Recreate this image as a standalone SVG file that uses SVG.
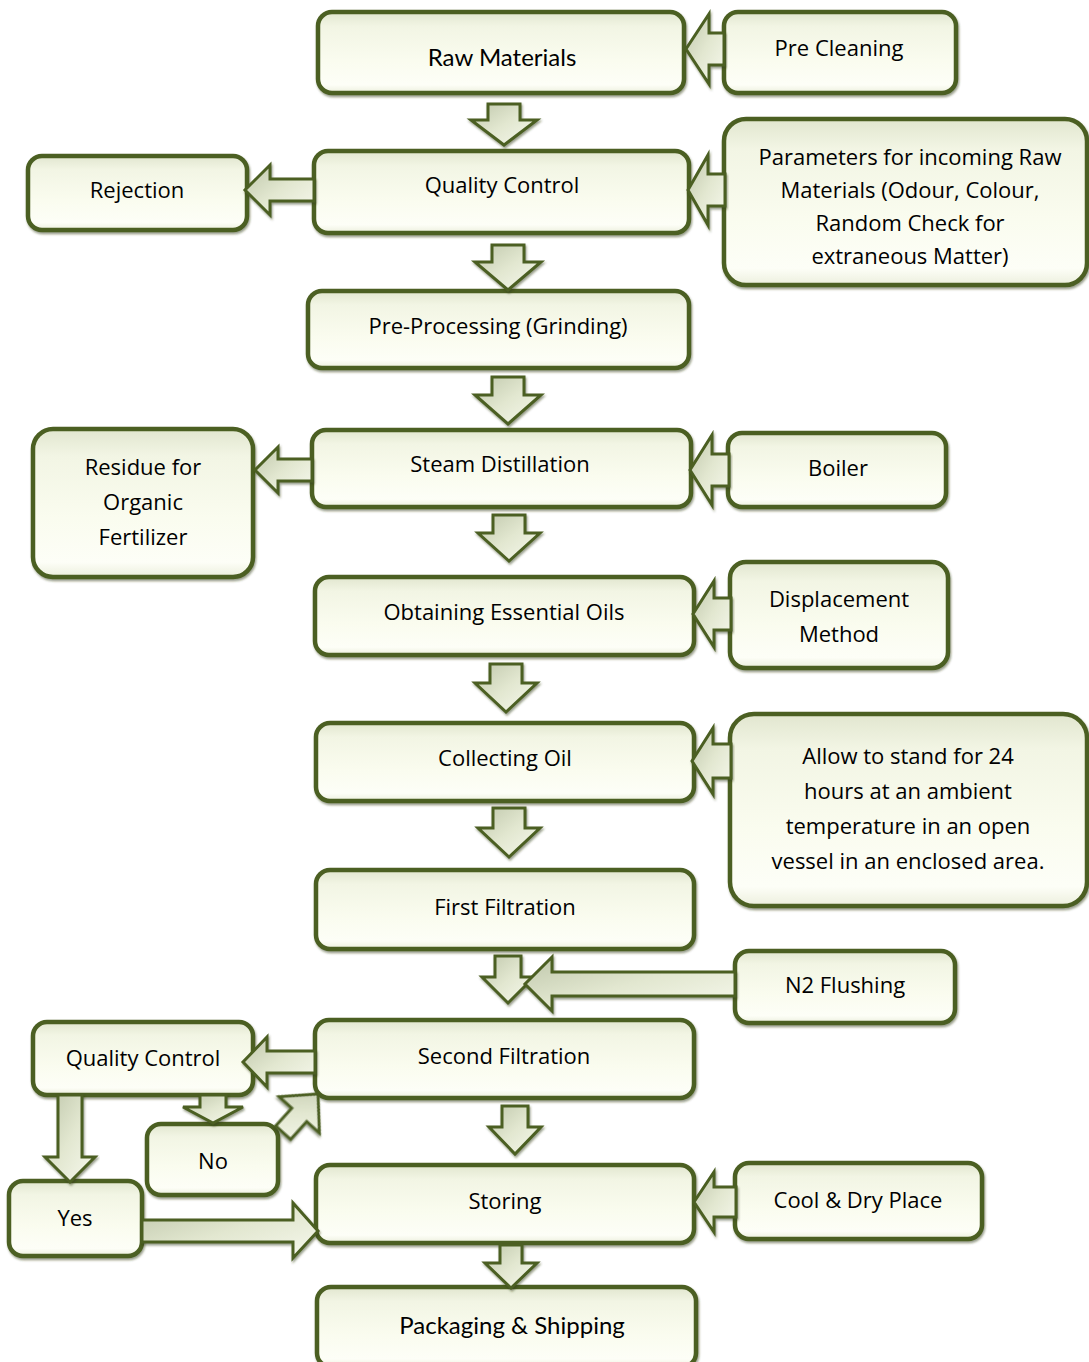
<svg xmlns="http://www.w3.org/2000/svg" width="1089" height="1362" viewBox="0 0 1089 1362">
<defs>
<linearGradient id="boxg" x1="0" y1="0" x2="0" y2="1">
<stop offset="0" stop-color="#e1e6cf"/>
<stop offset="0.18" stop-color="#f2f5e4"/>
<stop offset="0.6" stop-color="#fafcef"/>
<stop offset="0.9" stop-color="#fdfef7"/>
<stop offset="1" stop-color="#eceFdd"/>
</linearGradient>
<linearGradient id="arrg" x1="0" y1="0" x2="1" y2="1">
<stop offset="0" stop-color="#bfc7ab"/>
<stop offset="0.5" stop-color="#e2e7d0"/>
<stop offset="1" stop-color="#f7f9ee"/>
</linearGradient>
<filter id="sh" x="-10%" y="-10%" width="120%" height="130%">
<feDropShadow dx="1" dy="2" stdDeviation="1.2" flood-color="#2f3a18" flood-opacity="0.5"/>
</filter>
</defs>
<style>
.box{fill:url(#boxg);stroke:#4b5f22;stroke-width:4.5;filter:url(#sh)}
.arr{fill:url(#arrg);stroke:#4b5f22;stroke-width:3;stroke-linejoin:miter;filter:url(#sh)}
text{font-family:"Open Sans","Liberation Sans",sans-serif;font-size:22px;fill:#000;text-anchor:middle}
.gill{font-family:"Lato","Liberation Sans",sans-serif;font-size:24px}
</style>
<rect width="1089" height="1362" fill="#ffffff"/>
<g id="nodes">
<g id="raw-materials"><rect class="box" x="318" y="12" width="366" height="81" rx="14"/><text class="gill" x="502" y="66">Raw Materials</text></g>
<g id="pre-cleaning"><rect class="box" x="724" y="12" width="232" height="81" rx="14"/><text x="839" y="56">Pre Cleaning</text></g>
<g id="quality-control"><rect class="box" x="314" y="151" width="375" height="82" rx="14"/><text x="502" y="193">Quality Control</text></g>
<g id="rejection"><rect class="box" x="28" y="156" width="219" height="74" rx="14"/><text x="137" y="198">Rejection</text></g>
<g id="parameters"><rect class="box" x="724" y="119" width="363" height="166" rx="22"/><text x="910" y="165">Parameters for incoming Raw</text><text x="910" y="198">Materials (Odour, Colour,</text><text x="910" y="231">Random Check for</text><text x="910" y="264">extraneous Matter)</text></g>
<g id="pre-processing"><rect class="box" x="308" y="291" width="381" height="77" rx="14"/><text x="498" y="334">Pre-Processing (Grinding)</text></g>
<g id="steam-distillation"><rect class="box" x="312" y="430" width="379" height="77" rx="14"/><text x="500" y="472">Steam Distillation</text></g>
<g id="residue"><rect class="box" x="33" y="429" width="220" height="148" rx="20"/><text x="143" y="475">Residue for</text><text x="143" y="510">Organic</text><text x="143" y="545">Fertilizer</text></g>
<g id="boiler"><rect class="box" x="728" y="433" width="218" height="74" rx="14"/><text x="838" y="476">Boiler</text></g>
<g id="obtaining-oils"><rect class="box" x="315" y="577" width="379" height="78" rx="14"/><text x="504" y="620">Obtaining Essential Oils</text></g>
<g id="displacement"><rect class="box" x="730" y="562" width="218" height="106" rx="16"/><text x="839" y="607">Displacement</text><text x="839" y="642">Method</text></g>
<g id="collecting-oil"><rect class="box" x="316" y="723" width="378" height="78" rx="14"/><text x="505" y="766">Collecting Oil</text></g>
<g id="allow-stand"><rect class="box" x="730" y="714" width="357" height="192" rx="24"/><text x="908" y="764">Allow to stand for 24</text><text x="908" y="799">hours at an ambient</text><text x="908" y="834">temperature in an open</text><text x="908" y="869">vessel in an enclosed area.</text></g>
<g id="first-filtration"><rect class="box" x="316" y="870" width="378" height="79" rx="14"/><text x="505" y="915">First Filtration</text></g>
<g id="n2-flushing"><rect class="box" x="735" y="951" width="220" height="72" rx="14"/><text x="845" y="993">N2 Flushing</text></g>
<g id="second-filtration"><rect class="box" x="315" y="1020" width="379" height="78" rx="14"/><text x="504" y="1064">Second Filtration</text></g>
<g id="quality-control-2"><rect class="box" x="33" y="1022" width="220" height="73" rx="14"/><text x="143" y="1066">Quality Control</text></g>
<g id="no"><rect class="box" x="147" y="1124" width="131" height="71" rx="14"/><text x="213" y="1169">No</text></g>
<g id="yes"><rect class="box" x="9" y="1181" width="133" height="75" rx="14"/><text x="75" y="1226">Yes</text></g>
<g id="storing"><rect class="box" x="316" y="1165" width="378" height="78" rx="14"/><text x="505" y="1209">Storing</text></g>
<g id="cool-dry"><rect class="box" x="735" y="1163" width="247" height="76" rx="14"/><text x="858" y="1208">Cool &amp; Dry Place</text></g>
<g id="packaging"><rect class="box" x="317" y="1287" width="379" height="80" rx="14"/><text class="gill" x="512" y="1334">Packaging &amp; Shipping</text></g>
</g>
<g id="connectors">
<path class="arr" d="M488,104 H520 V120 H537 L504,145 L471,120 H488 Z"/>
<path class="arr" d="M492,245 H524 V262 H541 L508,290 L475,262 H492 Z"/>
<path class="arr" d="M492,377 H524 V395 H541 L508,424 L475,395 H492 Z"/>
<path class="arr" d="M493,515 H525 V533 H540 L509,561 L478,533 H493 Z"/>
<path class="arr" d="M490,664 H522 V683 H537 L506,712 L475,683 H490 Z"/>
<path class="arr" d="M493,808 H525 V828 H540 L509,857 L478,828 H493 Z"/>
<path class="arr" d="M495,956 H521 V977 H534 L508,1003 L482,977 H495 Z"/>
<path class="arr" d="M502,1106 H528 V1127 H541 L515,1154 L489,1127 H502 Z"/>
<path class="arr" d="M500,1245 H522 V1263 H537 L511,1288 L485,1263 H500 Z"/>
<path class="arr" d="M200,1095 H226 V1107 H243 L213,1123 L183,1107 H200 Z"/>
<path class="arr" d="M58,1095 H82 V1157 H95 L70,1182 L45,1157 H58 Z"/>
<path class="arr" d="M724,33 H709 V14 L686,49 L709,84 V65 H724 Z"/>
<path class="arr" d="M725,174 H708 V155 L688,190 L708,225 V206 H725 Z"/>
<path class="arr" d="M314,179 H270 V165 L245,190 L270,215 V201 H314 Z"/>
<path class="arr" d="M729,454 H712 V435 L690,470 L712,505 V486 H729 Z"/>
<path class="arr" d="M312,459 H278 V447 L255,470 L278,493 V481 H312 Z"/>
<path class="arr" d="M731,598 H714 V581 L693,614 L714,647 V630 H731 Z"/>
<path class="arr" d="M731,744 H713 V728 L692,761 L713,794 V778 H731 Z"/>
<path class="arr" d="M735,972 H552 V957 L525,984 L552,1011 V996 H735 Z"/>
<path class="arr" d="M315,1051 H267 V1037 L243,1062 L267,1087 V1073 H315 Z"/>
<path class="arr" d="M736,1187 H714 V1172 L694,1202 L714,1232 V1217 H736 Z"/>
<path class="arr" d="M142,1220 H293 V1203 L318,1231 L293,1258 V1242 H142 Z"/>
<path class="arr" transform="translate(318,1094) rotate(42)" d="M0,0 L27,28 L10,28 L10,52 L-10,52 L-10,28 L-27,28 Z"/>
</g>
</svg>
